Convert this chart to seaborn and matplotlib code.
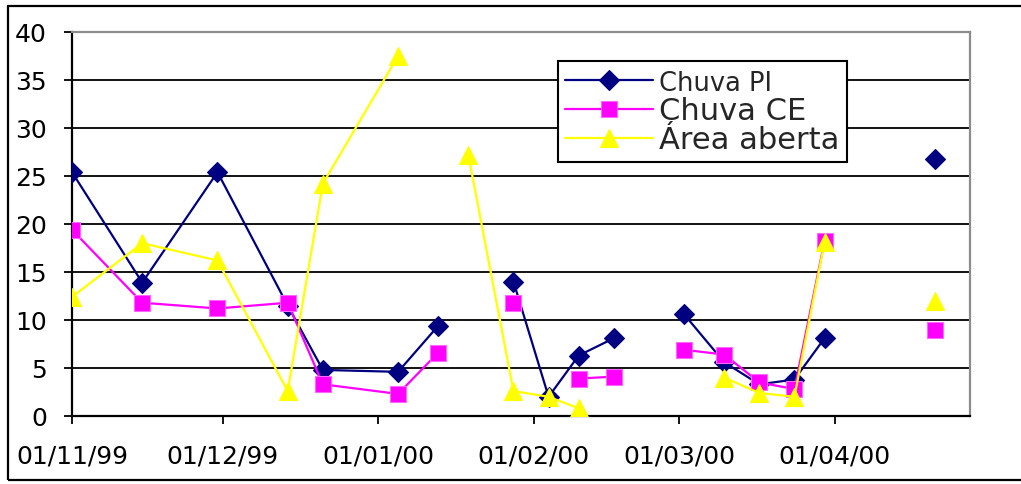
import numpy as np
import pandas as pd
import matplotlib
matplotlib.use("Agg")
import matplotlib.pyplot as plt
from matplotlib.lines import Line2D
from matplotlib.patches import Rectangle
import seaborn as sns

# Sampling dates (rows with no readings break the lines)
dates = ["1999-11-01", "1999-11-15", "1999-11-30", "1999-12-14", "1999-12-21",
         "2000-01-05", "2000-01-13", "2000-01-19", "2000-01-28", "2000-02-04",
         "2000-02-10", "2000-02-17", "2000-02-24", "2000-03-02", "2000-03-10",
         "2000-03-17", "2000-03-24", "2000-03-30", "2000-04-10", "2000-04-21"]

chuva_pi = [25.4, 13.9, 25.4, 11.5, 4.8, 4.6, 9.4, np.nan, 14.0, 2.0,
            6.3, 8.1, np.nan, 10.6, 5.6, 3.3, 3.8, 8.1, np.nan, 26.8]
chuva_ce = [19.4, 11.8, 11.2, 11.8, 3.3, 2.3, 6.6, np.nan, 11.8, np.nan,
            3.9, 4.1, np.nan, 6.9, 6.4, 3.5, 2.8, 18.2, np.nan, 9.0]
area_aberta = [12.4, 18.0, 16.2, 2.6, 24.2, 37.5, np.nan, 27.2, 2.6, 2.0,
               0.8, np.nan, np.nan, np.nan, 4.0, 2.4, 2.0, 18.1, np.nan, 12.0]

series_names = ["Chuva PI", "Chuva CE", "Área aberta"]
series_values = [chuva_pi, chuva_ce, area_aberta]

tick_dates = ["1999-11-01", "1999-12-01", "2000-01-01",
              "2000-02-01", "2000-03-01", "2000-04-01"]
tick_labels = ["01/11/99", "01/12/99", "01/01/00",
               "01/02/00", "01/03/00", "01/04/00"]
y_ticks = [0, 5, 10, 15, 20, 25, 30, 35, 40]

styles = [
    dict(color="#000080", marker="D", markersize=9.7, mec="#000080"),
    dict(color="#ff00ff", marker="s", markersize=11.8, mec="#ff66ff"),
    dict(color="#ffff00", marker="^", markersize=13.5, mec="#ffff00"),
]

sns.set_theme(style="white")
plt.rcParams["font.family"] = ["DejaVu Sans"]

W, H = 1021, 485
fig = plt.figure(figsize=(W / 100, H / 100), dpi=100)
fig.patch.set_facecolor("white")
ax = fig.add_axes([72 / W, 68 / H, 898 / W, 384 / H])
ax.set_facecolor("white")

# outer chart frame
fig.patches.append(Rectangle((8 / W, 4 / H), 1.2, 474 / H, transform=fig.transFigure,
                             fill=False, edgecolor="black", linewidth=1.6, zorder=0))

for name, vals, st in zip(series_names, series_values, styles):
    df = pd.DataFrame({"date": pd.to_datetime(dates), "value": vals})
    df["seg"] = df["value"].isna().cumsum()
    df = df.dropna()
    sns.lineplot(data=df, x="date", y="value", units="seg", estimator=None,
                 color=st["color"], marker=st["marker"], markersize=st["markersize"],
                 markeredgecolor=st["mec"], markeredgewidth=0.8,
                 linewidth=1.6, ax=ax, legend=False, zorder=3)

ax.set_xlim(pd.Timestamp("1999-11-01"), pd.Timestamp("2000-04-28"))
ax.set_ylim(0, 40)
ax.set_yticks(y_ticks)
ax.set_yticklabels([str(v) for v in y_ticks])
ax.set_xticks(pd.to_datetime(tick_dates))
ax.set_xticklabels(tick_labels)
ax.set_xlabel("")
ax.set_ylabel("")

ax.yaxis.grid(True, color="black", linewidth=1.3, zorder=1)
ax.xaxis.grid(False)
ax.set_axisbelow(True)

for side in ["left", "bottom"]:
    ax.spines[side].set_color("black")
    ax.spines[side].set_linewidth(1.6)
for side in ["top", "right"]:
    ax.spines[side].set_color("#8c8c8c")
    ax.spines[side].set_linewidth(1.6)

ax.tick_params(axis="y", direction="out", length=6, width=1.3, pad=12,
               labelsize=18, colors="black", left=True)
ax.tick_params(axis="x", direction="out", length=6, width=1.3, pad=14,
               labelsize=18, colors="black", bottom=True)

handles = [Line2D([], [], color=st["color"], marker=st["marker"],
                  markersize=st["markersize"], markeredgecolor=st["mec"],
                  markeredgewidth=0.8, linewidth=1.6) for st in styles]
leg = ax.legend(handles, series_names, loc="upper left",
                bbox_to_anchor=(0.541, 0.924), borderaxespad=0,
                frameon=True, fancybox=False, edgecolor="black", framealpha=1,
                fontsize=22, handlelength=2.85, handletextpad=0.2,
                labelspacing=0.0, borderpad=0.25)
leg.get_frame().set_linewidth(1.5)
leg.get_texts()[0].set_fontsize(18.5)
leg.set_zorder(5)

fig.savefig("out.png", dpi=100, facecolor="white")
